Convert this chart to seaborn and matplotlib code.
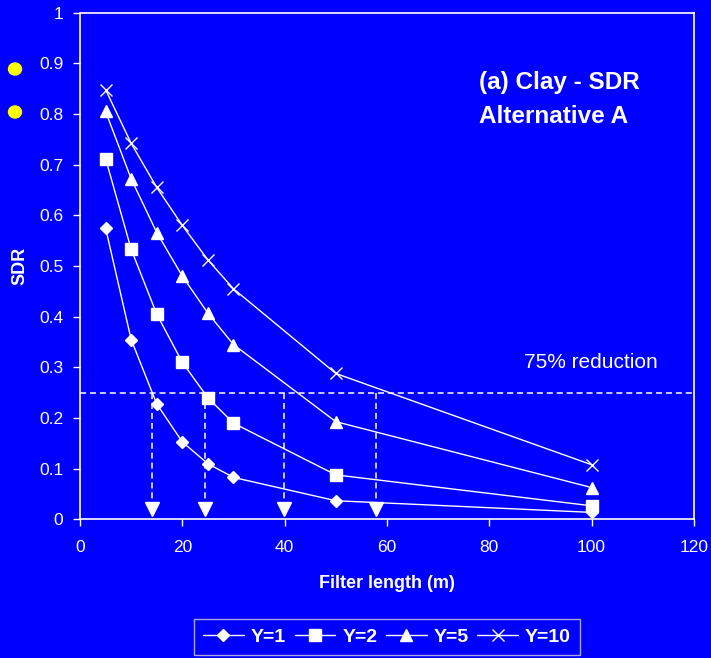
import matplotlib
matplotlib.use("Agg")
import matplotlib.pyplot as plt
import seaborn as sns
import pandas as pd

# filter lengths (m)
filter_length = [5, 10, 15, 20, 25, 30, 50, 100]

# SDR values
sdr_y1 = [0.575, 0.355, 0.228, 0.153, 0.110, 0.083, 0.037, 0.014]
sdr_y2 = [0.712, 0.533, 0.405, 0.310, 0.240, 0.190, 0.088, 0.027]
sdr_y5 = [0.805, 0.672, 0.566, 0.480, 0.407, 0.345, 0.193, 0.063]
sdr_y10 = [0.848, 0.742, 0.655, 0.580, 0.512, 0.455, 0.288, 0.108]

series_names = ["Y=1", "Y=2", "Y=5", "Y=10"]
series_values = [sdr_y1, sdr_y2, sdr_y5, sdr_y10]

# 75% reduction line and where each curve crosses it
reduction_level = 0.25
crossing_x = [14.1, 24.5, 39.8, 57.9]
arrow_y = 0.02

BLUE = "#0000FF"

rows = []
for name, vals in zip(series_names, series_values):
    for x, v in zip(filter_length, vals):
        rows.append({"Filter length": x, "SDR": v, "series": name})
df = pd.DataFrame(rows)

sns.set_style("white")
plt.rcParams["font.family"] = ["Liberation Sans", "DejaVu Sans"]

fig = plt.figure(figsize=(7.11, 6.58), dpi=100, facecolor=BLUE)
ax = fig.add_axes([0.1125, 0.2105, 0.8635, 0.7705])
ax.set_facecolor(BLUE)

markers = {"Y=1": "D", "Y=2": "s", "Y=5": "^", "Y=10": "x"}
msizes = {"Y=1": 6.5, "Y=2": 8, "Y=5": 9, "Y=10": 9}

for name in series_names:
    sub = df[df["series"] == name]
    sns.lineplot(data=sub, x="Filter length", y="SDR", ax=ax, color="white",
                 linewidth=1.0, marker=markers[name], markersize=msizes[name],
                 markeredgecolor="white", markerfacecolor="white",
                 markeredgewidth=1.0, label=name)

# dashed guide lines
ax.axhline(reduction_level, color="white", linestyle=(0, (4, 2.5)), linewidth=1.1)
for cx in crossing_x:
    ax.plot([cx, cx], [reduction_level, arrow_y], color="white",
            linestyle=(0, (4, 2.5)), linewidth=1.1)
    ax.plot([cx], [arrow_y], marker="v", color="white", markersize=10,
            linestyle="none")

ax.text(86.7, 0.309, "75% reduction", color="white", fontsize=15, va="center")
ax.text(78, 0.861, "(a) Clay - SDR", color="white", fontsize=17.5,
        fontweight="bold", va="center")
ax.text(78, 0.794, "Alternative A", color="white", fontsize=17.5,
        fontweight="bold", va="center")

ax.set_xlim(0, 120)
ax.set_ylim(0, 1)
ax.set_xticks(range(0, 121, 20))
ax.set_yticks([i / 10 for i in range(11)])
ax.set_yticklabels(["0"] + [f"{i / 10:.1f}" for i in range(1, 10)] + ["1"])
ax.tick_params(colors="white", labelsize=12.5, length=5, width=1, direction="out",
               bottom=True, left=True)
ax.tick_params(axis="x", pad=10)
ax.tick_params(axis="y", pad=7)
ax.set_xlabel("Filter length (m)", color="white", fontsize=13, fontweight="bold",
              labelpad=14)
ax.set_ylabel("SDR", color="white", fontsize=13, fontweight="bold", labelpad=8)
for sp in ax.spines.values():
    sp.set_color("white")
    sp.set_linewidth(1.2)

# yellow bullet dots on the left
fig.patches.append(plt.Circle((15 / 711, 1 - 69 / 658), 6.5 / 711, color="yellow",
                              transform=fig.transFigure, figure=fig))
fig.patches.append(plt.Circle((15 / 711, 1 - 112 / 658), 6.5 / 711, color="yellow",
                              transform=fig.transFigure, figure=fig))

leg = ax.legend(loc="center", bbox_to_anchor=(387 / 711, 1 - 637 / 658),
                bbox_transform=fig.transFigure, ncol=4, frameon=True,
                fancybox=False, facecolor=BLUE, edgecolor="#D0D0D0",
                handlelength=2.1, columnspacing=0.45, handletextpad=0.35,
                borderpad=0.45, prop={"weight": "bold", "size": 14})
for t in leg.get_texts():
    t.set_color("white")

fig.savefig("out.png", dpi=100, facecolor=BLUE)
